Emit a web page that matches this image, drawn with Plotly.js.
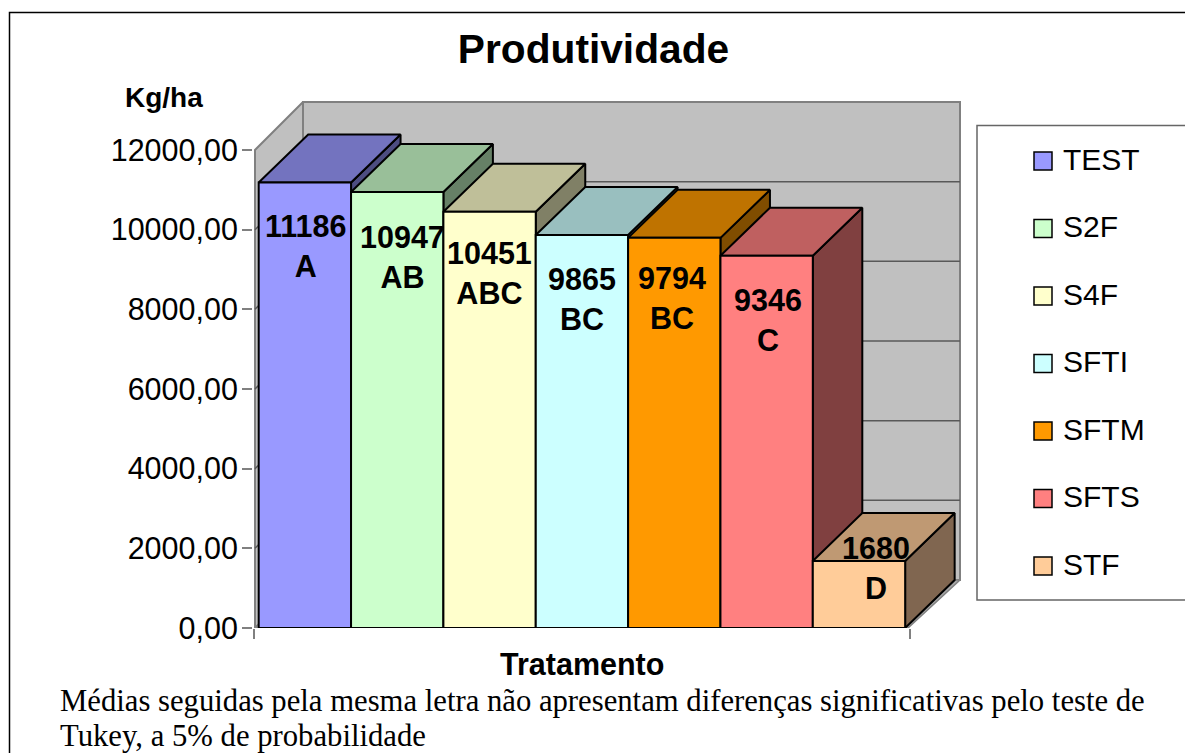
<!DOCTYPE html>
<html>
<head>
<meta charset="utf-8">
<script src="https://cdn.plot.ly/plotly-3.0.1.min.js"></script>
<style>html,body{margin:0;padding:0;background:#fff;overflow:hidden}#chart{width:1185px;height:753px}</style>
</head>
<body>
<div id="chart"></div>
<script>
// --- data ---
const categories = ['TEST','S2F','S4F','SFTI','SFTM','SFTS','STF'];
const values = [11186,10947,10451,9865,9794,9346,1680];
const letters = ['A','AB','ABC','BC','BC','C','D'];
const yTickVals = [0,2000,4000,6000,8000,10000,12000];
const yTickText = ['0,00','2000,00','4000,00','6000,00','8000,00','10000,00','12000,00'];
// --- styles ---
const frontColors = ['#9999FF','#CCFFCC','#FFFFCC','#CCFFFF','#FF9900','#FF8080','#FFCC99'];
const topColors   = ['#7373BF','#99BF99','#BFBF99','#99BFBF','#BF7300','#BF6060','#BF9973'];
const sideColors  = ['#4D4D80','#668066','#808066','#668080','#804D00','#804040','#806650'];
const labelShiftX = [1,5,0,0,-2,1,17];
const labelShiftY = [64,65,61,64,60,64,7];
const FONT = 'Liberation Sans, Arial, sans-serif';

// --- geometry: page pixels <-> axis units ---
const W = 1185, H = 753;
const plotL = 253, plotR = 962, plotT = 100, plotB = 628;
const unitX = 92.35, unitY = 478 / 12000, bar0 = 258.7;
const xAt = p => -0.5 + (p - bar0) / unitX;
const xRange = [xAt(plotL), xAt(plotR)];
const yRange = [0, (plotB - plotT) / unitY];
const dX = 48 / unitX, dY = 48 / unitY;          // depth of the 3D box
const faceDX = 49.5 / unitX;                     // depth of the bars' own faces
const wallL = xAt(255), wallR = xAt(908), wallEnd = xAt(960);
const px = v => v / W, py = v => 1 - v / H;

const traces = [];
const poly = (xs, ys, fill, lineColor, lineWidth) => traces.push({
  type:'scatter', mode:'lines', x:xs.concat(xs[0]), y:ys.concat(ys[0]), fill:'toself',
  fillcolor:fill, line:{color:lineColor, width:lineWidth, shape:'linear'},
  showlegend:false, hoverinfo:'skip', xaxis:'x', yaxis:'y'
});
const yMax = yTickVals[yTickVals.length-1];
// side wall, back wall, floor
poly([wallL, wallL+dX, wallL+dX, wallL],[0, dY, yMax+dY, yMax],'#C0C0C0','#808080',2);
poly([wallL+dX, wallEnd, wallEnd, wallL+dX],[dY, dY, yMax+dY, yMax+dY],'#C0C0C0','#808080',2);
// gridlines
yTickVals.forEach(v => { if (v>0 && v<yMax) traces.push({
  type:'scatter', mode:'lines', x:[wallL, wallL+dX, wallEnd], y:[v, v+dY, v+dY],
  line:{color:'#595959', width:1.5}, showlegend:false, hoverinfo:'skip', xaxis:'x', yaxis:'y'
});});
poly([wallL, wallL+dX, wallEnd, wallR],[0, dY, dY, 0],'#A6A6A6','#808080',1.5);

// 3D faces of each bar: side then top, from left to right
values.forEach((v,i) => {
  const a = i-0.5, b = i+0.5;
  poly([b, b+faceDX, b+faceDX, b],[0, dY, v+dY, v], sideColors[i], '#000', 2);
  poly([a, a+faceDX, b+faceDX, b],[v, v+dY, v+dY, v], topColors[i], '#000', 2);
});
// front faces: real bars on an overlaid axis pair, above the polygons
values.forEach((v,i) => traces.push({
  type:'bar', name:categories[i], x:[i], y:[v], width:1,
  marker:{color:frontColors[i], line:{color:'#000', width:2}},
  showlegend:false, xaxis:'x2', yaxis:'y2', hoverinfo:'name+y'
}));

// value labels
const annotations = values.map((v,i) => ({
  xref:'x', yref:'y', x:i, y:v, xshift:labelShiftX[i], yshift:-labelShiftY[i],
  xanchor:'center', yanchor:'middle', showarrow:false, align:'center',
  text:'<b>'+v+'</b><br><b>'+letters[i]+'</b>',
  font:{family:FONT, size:30.5, color:'#000'}
}));
const note = (x,y,text,size,family,anchor,bold) => annotations.push({
  xref:'paper', yref:'paper', x:px(x), y:py(y), xanchor:anchor, yanchor:'middle',
  showarrow:false, text: bold ? '<b>'+text+'</b>' : text, font:{family, size, color:'#000'}
});
note(164,97,'Kg/ha',28,FONT,'center',true);
note(582,664,'Tratamento',30.5,FONT,'center',true);
const SERIF = 'Liberation Serif, Times New Roman, serif';
note(58,700.5,'Médias seguidas pela mesma letra não apresentam diferenças significativas pelo teste de',30.7,SERIF,'left',false);
note(58,735.5,'Tukey, a 5% de probabilidade',30.7,SERIF,'left',false);

// outer frame and legend box
const shapes = [
  {type:'rect', xref:'paper', yref:'paper', x0:px(9.5), x1:px(1195), y0:py(12.5), y1:py(765),
   line:{color:'#000', width:1.5}, fillcolor:'rgba(0,0,0,0)', layer:'below'},
  {type:'rect', xref:'paper', yref:'paper', x0:px(977), x1:px(1195), y0:py(125.5), y1:py(600),
   line:{color:'#666', width:1.5}, fillcolor:'#fff', layer:'below'}
];
categories.forEach((c,i) => {
  const cy = 161 + i*67.5;
  shapes.push({type:'rect', xref:'paper', yref:'paper', x0:px(1034), x1:px(1052), y0:py(cy-9), y1:py(cy+9),
    line:{color:'#000', width:1.5}, fillcolor:frontColors[i], layer:'above'});
  note(1061,cy-2,c,30,FONT,'left',false);
});

const layout = {
  width:W, height:H, autosize:false,
  margin:{l:0,r:0,t:0,b:0,pad:0},
  paper_bgcolor:'#fff', plot_bgcolor:'rgba(0,0,0,0)',
  showlegend:false, barmode:'overlay',
  title:{text:'<b>Produtividade</b>', x:px(593.5), xanchor:'center', y:py(49), yanchor:'middle',
         font:{family:FONT, size:40.7, color:'#000'}},
  xaxis:{domain:[px(plotL), px(plotR)], range:xRange, fixedrange:true, showgrid:false, zeroline:false, showline:false,
         tickmode:'array', tickvals:[xAt(254), xAt(910)], ticktext:['',''], ticks:'outside', ticklen:10, tickwidth:1.5, tickcolor:'#808080'},
  yaxis:{domain:[py(plotB), py(plotT)], range:yRange, fixedrange:true, showgrid:false, zeroline:false, showline:false,
         tickmode:'array', tickvals:yTickVals, ticktext:yTickText, ticks:'outside', ticklen:10, tickwidth:1.5, tickcolor:'#808080',
         ticklabelstandoff:-2, tickfont:{family:FONT, size:30.5, color:'#000'}},
  xaxis2:{domain:[px(plotL), px(plotR)], range:xRange, overlaying:'x', anchor:'y2', visible:false, fixedrange:true},
  yaxis2:{domain:[py(plotB), py(plotT)], range:yRange, overlaying:'y', anchor:'x2', visible:false, fixedrange:true},
  shapes, annotations
};
Plotly.newPlot('chart', traces, layout, {displayModeBar:false, responsive:false});
</script>
</body>
</html>
